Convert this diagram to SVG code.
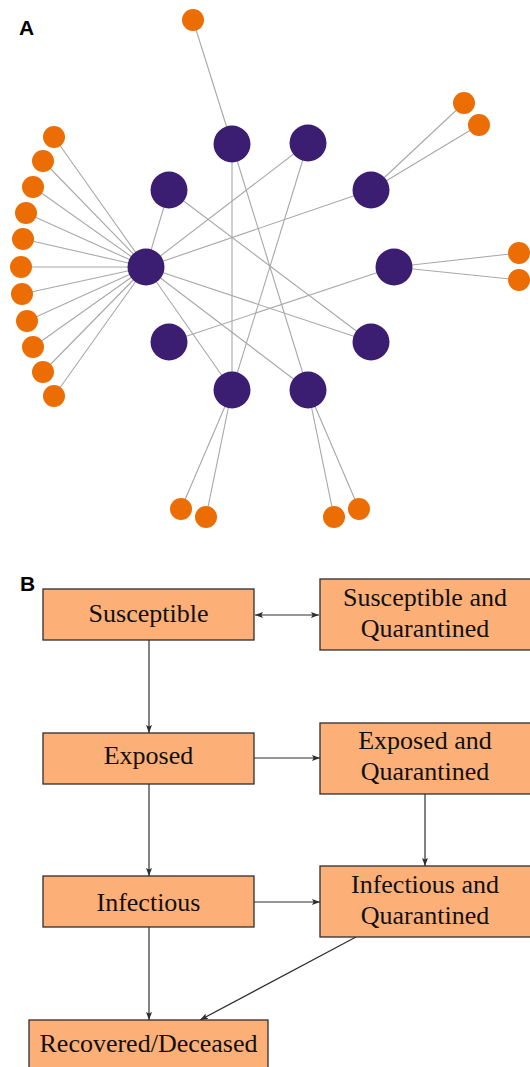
<svg xmlns="http://www.w3.org/2000/svg" width="530" height="1067" viewBox="0 0 530 1067">
<style>
.lbl{font-family:"Liberation Sans",Arial,sans-serif;font-weight:bold;font-size:21px;fill:#000}
.edge{stroke:#a8a8a8;stroke-width:1.1;fill:none}
.p{fill:#3b1d71}
.o{fill:#ec6d03}
.box{fill:#fdaf78;stroke:#2e2e2e;stroke-width:1.3}
.t{font-family:"Liberation Serif","Times New Roman",serif;font-size:26px;fill:#111;text-anchor:middle}
.arr{stroke:#2e2e2e;stroke-width:1.2;fill:none;marker-end:url(#ah)}
</style>
<defs>
<marker id="ah" viewBox="0 0 8 6" refX="8" refY="3" markerWidth="8" markerHeight="6" markerUnits="userSpaceOnUse" orient="auto-start-reverse">
<path d="M0,0 L8,3 L0,6 L1.6,3 z" fill="#2e2e2e"/>
</marker>
</defs>
<rect width="530" height="1067" fill="#fff"/>
<text class="lbl" x="19" y="35">A</text>
<g id="network-edges">
<line class="edge" x1="193" y1="20" x2="232" y2="144"/>
<line class="edge" x1="54" y1="137" x2="146" y2="267"/>
<line class="edge" x1="43" y1="161" x2="146" y2="267"/>
<line class="edge" x1="33" y1="187" x2="146" y2="267"/>
<line class="edge" x1="26" y1="213" x2="146" y2="267"/>
<line class="edge" x1="23" y1="239" x2="146" y2="267"/>
<line class="edge" x1="21" y1="267" x2="146" y2="267"/>
<line class="edge" x1="22" y1="294" x2="146" y2="267"/>
<line class="edge" x1="27" y1="321" x2="146" y2="267"/>
<line class="edge" x1="33" y1="347" x2="146" y2="267"/>
<line class="edge" x1="43" y1="372" x2="146" y2="267"/>
<line class="edge" x1="54" y1="396" x2="146" y2="267"/>
<line class="edge" x1="146" y1="267" x2="169" y2="190"/>
<line class="edge" x1="146" y1="267" x2="308" y2="143"/>
<line class="edge" x1="146" y1="267" x2="371" y2="190"/>
<line class="edge" x1="146" y1="267" x2="371" y2="342"/>
<line class="edge" x1="146" y1="267" x2="308" y2="390"/>
<line class="edge" x1="146" y1="267" x2="232" y2="390"/>
<line class="edge" x1="169" y1="190" x2="371" y2="342"/>
<line class="edge" x1="232" y1="144" x2="232" y2="390"/>
<line class="edge" x1="232" y1="144" x2="308" y2="390"/>
<line class="edge" x1="308" y1="143" x2="232" y2="390"/>
<line class="edge" x1="371" y1="190" x2="464" y2="103"/>
<line class="edge" x1="371" y1="190" x2="479" y2="125"/>
<line class="edge" x1="394" y1="267" x2="519" y2="253"/>
<line class="edge" x1="394" y1="267" x2="519" y2="280"/>
<line class="edge" x1="394" y1="267" x2="169" y2="342"/>
<line class="edge" x1="232" y1="390" x2="181" y2="509"/>
<line class="edge" x1="232" y1="390" x2="206" y2="517"/>
<line class="edge" x1="308" y1="390" x2="334" y2="517"/>
<line class="edge" x1="308" y1="390" x2="359" y2="509"/>
</g>
<g id="n-hub"><circle class="p" cx="146" cy="267" r="18.5"/></g>
<g id="n-p2"><circle class="p" cx="169" cy="190" r="18.5"/></g>
<g id="n-p3"><circle class="p" cx="232" cy="144" r="18.5"/></g>
<g id="n-p4"><circle class="p" cx="308" cy="143" r="18.5"/></g>
<g id="n-p5"><circle class="p" cx="371" cy="190" r="18.5"/></g>
<g id="n-p6"><circle class="p" cx="394" cy="267" r="18.5"/></g>
<g id="n-p7"><circle class="p" cx="371" cy="342" r="18.5"/></g>
<g id="n-p8"><circle class="p" cx="308" cy="390" r="18.5"/></g>
<g id="n-p9"><circle class="p" cx="232" cy="390" r="18.5"/></g>
<g id="n-p10"><circle class="p" cx="169" cy="342" r="18.5"/></g>
<g id="n-o-top"><circle class="o" cx="193" cy="20" r="11"/></g>
<g id="n-o-left">
<circle class="o" cx="54" cy="137" r="11"/>
<circle class="o" cx="43" cy="161" r="11"/>
<circle class="o" cx="33" cy="187" r="11"/>
<circle class="o" cx="26" cy="213" r="11"/>
<circle class="o" cx="23" cy="239" r="11"/>
<circle class="o" cx="21" cy="267" r="11"/>
<circle class="o" cx="22" cy="294" r="11"/>
<circle class="o" cx="27" cy="321" r="11"/>
<circle class="o" cx="33" cy="347" r="11"/>
<circle class="o" cx="43" cy="372" r="11"/>
<circle class="o" cx="54" cy="396" r="11"/>
</g>
<g id="n-o-ur"><circle class="o" cx="464" cy="103" r="11"/><circle class="o" cx="479" cy="125" r="11"/></g>
<g id="n-o-r"><circle class="o" cx="519" cy="253" r="11"/><circle class="o" cx="519" cy="280" r="11"/></g>
<g id="n-o-bl"><circle class="o" cx="181" cy="509" r="11"/><circle class="o" cx="206" cy="517" r="11"/></g>
<g id="n-o-br"><circle class="o" cx="334" cy="517" r="11"/><circle class="o" cx="359" cy="509" r="11"/></g>

<text class="lbl" x="20" y="591">B</text>
<g id="connectors">
<line class="arr" x1="255" y1="615" x2="319" y2="615" style="marker-start:url(#ah)"/>
<line class="arr" x1="149" y1="640" x2="149" y2="733"/>
<line class="arr" x1="254" y1="758" x2="320" y2="758"/>
<line class="arr" x1="425" y1="794" x2="425" y2="866"/>
<line class="arr" x1="149" y1="784" x2="149" y2="876"/>
<line class="arr" x1="254" y1="902" x2="320" y2="902"/>
<line class="arr" x1="149" y1="927" x2="149" y2="1020"/>
<line class="arr" x1="356" y1="937" x2="200" y2="1020"/>
</g>
<g id="susceptible"><rect class="box" x="43" y="589" width="211" height="51"/><text class="t" x="148.5" y="622">Susceptible</text></g>
<g id="susceptible-quarantined"><rect class="box" x="320" y="579" width="212" height="71"/><text class="t" x="425" y="606">Susceptible and</text><text class="t" x="425" y="637">Quarantined</text></g>
<g id="exposed"><rect class="box" x="43" y="733" width="211" height="51"/><text class="t" x="148.5" y="764">Exposed</text></g>
<g id="exposed-quarantined"><rect class="box" x="320" y="723" width="212" height="71"/><text class="t" x="425" y="749">Exposed and</text><text class="t" x="425" y="780">Quarantined</text></g>
<g id="infectious"><rect class="box" x="43" y="876" width="211" height="51"/><text class="t" x="148.5" y="911">Infectious</text></g>
<g id="infectious-quarantined"><rect class="box" x="320" y="866" width="212" height="71"/><text class="t" x="425" y="893">Infectious and</text><text class="t" x="425" y="924">Quarantined</text></g>
<g id="recovered"><rect class="box" x="29" y="1020" width="239" height="60"/><text class="t" x="148.5" y="1052">Recovered/Deceased</text></g>
</svg>
